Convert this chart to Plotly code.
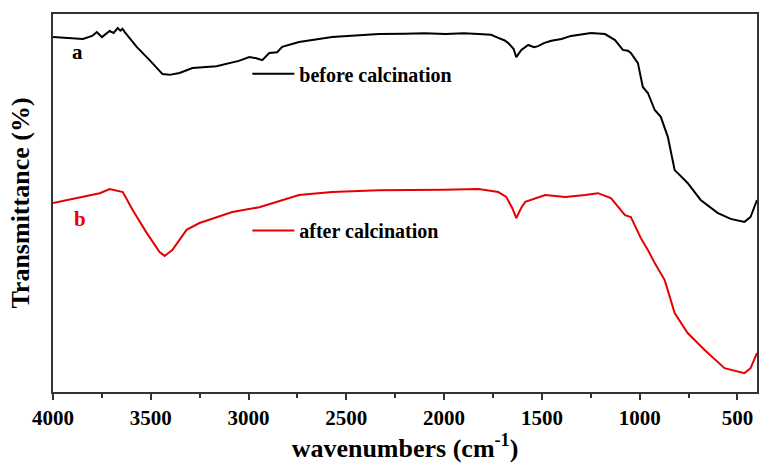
import plotly.graph_objects as go

# Sample a: before calcination
wn_a = [4000, 3900, 3847, 3800, 3776, 3750, 3725, 3710, 3690, 3669, 3655, 3645, 3633, 3572, 3506,
        3440, 3404, 3353, 3287, 3164, 3050, 2996, 2960, 2930, 2894, 2854, 2828, 2742, 2573,
        2400, 2334, 2200, 2100, 1993, 1900, 1824, 1760, 1723, 1690, 1672, 1645, 1631, 1605,
        1570, 1540, 1519, 1490, 1452, 1400, 1351, 1300, 1249, 1177, 1126, 1086, 1060, 1045,
        1009, 984, 958, 923, 892, 856, 821, 805, 755, 688, 602, 535, 500, 464, 433, 400]
t_a = [93.9, 93.6, 93.4, 94.2, 95.2, 93.9, 95.0, 95.5, 95.0, 96.3, 95.6, 96.1, 95.2, 91.3, 87.8,
       84.1, 83.9, 84.4, 85.7, 86.2, 87.6, 88.6, 88.3, 87.8, 89.7, 89.9, 91.3, 92.6, 93.9,
       94.4, 94.7, 94.8, 94.9, 94.7, 94.9, 94.7, 94.5, 93.7, 93.0, 92.3, 90.8, 88.6, 90.5,
       91.8, 91.2, 91.5, 92.3, 92.9, 93.4, 94.2, 94.6, 95.0, 94.7, 93.1, 90.5, 90.3, 89.7,
       87.0, 80.7, 79.1, 74.6, 72.8, 67.5, 58.7, 57.9, 55.3, 50.8, 47.4, 45.8, 45.5, 45.0,
       46.3, 50.8]

# Sample b: after calcination
wn_b = [4000, 3761, 3710, 3643, 3592, 3521, 3455, 3429, 3389, 3317, 3251, 3083, 2945, 2742,
        2573, 2334, 2000, 1824, 1723, 1682, 1650, 1631, 1605, 1585, 1483, 1381, 1279, 1213,
        1147, 1075, 1045, 994, 958, 923, 872, 821, 755, 668, 566, 515, 464, 433, 400]
t_b = [50.0, 52.6, 53.7, 52.9, 48.1, 42.1, 37.0, 36.0, 37.6, 42.9, 44.7, 47.6, 48.9, 52.1,
       52.9, 53.4, 53.5, 53.7, 52.9, 51.6, 48.5, 46.0, 48.8, 50.3, 52.1, 51.6, 52.1, 52.6,
       51.3, 46.8, 46.3, 40.7, 37.6, 34.1, 29.6, 20.9, 15.6, 11.1, 6.3, 5.6, 5.0, 6.3, 10.3]

x_ticks = [4000, 3500, 3000, 2500, 2000, 1500, 1000, 500]

serif = "Liberation Serif"
red = "#e60000"

fig = go.Figure()
fig.add_trace(go.Scatter(x=wn_a, y=t_a, mode="lines", name="before calcination",
                         line=dict(color="black", width=2), legend="legend"))
fig.add_trace(go.Scatter(x=wn_b, y=t_b, mode="lines", name="after calcination",
                         line=dict(color=red, width=2), legend="legend2"))

fig.add_annotation(x=3875, y=90.0, text="a", showarrow=False, xref="x", yref="y",
                   font=dict(family=serif, size=21, color="black", weight="bold"))
fig.add_annotation(x=3860, y=45.8, text="b", showarrow=False, xref="x", yref="y",
                   font=dict(family=serif, size=21, color=red, weight="bold"))

legend_style = dict(bgcolor="rgba(0,0,0,0)", borderwidth=0,
                    font=dict(family=serif, size=20, color="black", weight="bold"),
                    xanchor="left", yanchor="middle", itemwidth=42)
fig.update_layout(
    width=761, height=467,
    margin=dict(l=53, r=2, t=14, b=75),
    paper_bgcolor="white", plot_bgcolor="white",
    showlegend=True,
    legend=dict(x=0.276, y=0.842, **legend_style),
    legend2=dict(x=0.276, y=0.427, **legend_style),
    xaxis=dict(
        range=[4000, 400], tickvals=x_ticks, ticktext=[str(v) for v in x_ticks],
        ticks="outside", ticklen=6, tickwidth=1.5, tickcolor="#333",
        minor=dict(dtick=250, tick0=0, ticks="outside", ticklen=4, tickwidth=1.5, tickcolor="#333"),
        showline=True, linecolor="#333", linewidth=1.5, mirror=True,
        showgrid=False, zeroline=False,
        tickfont=dict(family=serif, size=21, color="black", weight="bold"),
        title=dict(text="wavenumbers (cm<sup>-1</sup>)", standoff=10,
                   font=dict(family=serif, size=26, color="black", weight="bold")),
    ),
    yaxis=dict(
        range=[0, 100], showticklabels=False, ticks="",
        showline=True, linecolor="#333", linewidth=1.5, mirror=True,
        showgrid=False, zeroline=False,
        title=dict(text="Transmittance (%)", standoff=14,
                   font=dict(family=serif, size=26, color="black", weight="bold")),
    ),
)

fig.write_html("out.html", config={"displayModeBar": False},
               post_script="document.body.style.margin='0';document.body.style.overflow='hidden';")
